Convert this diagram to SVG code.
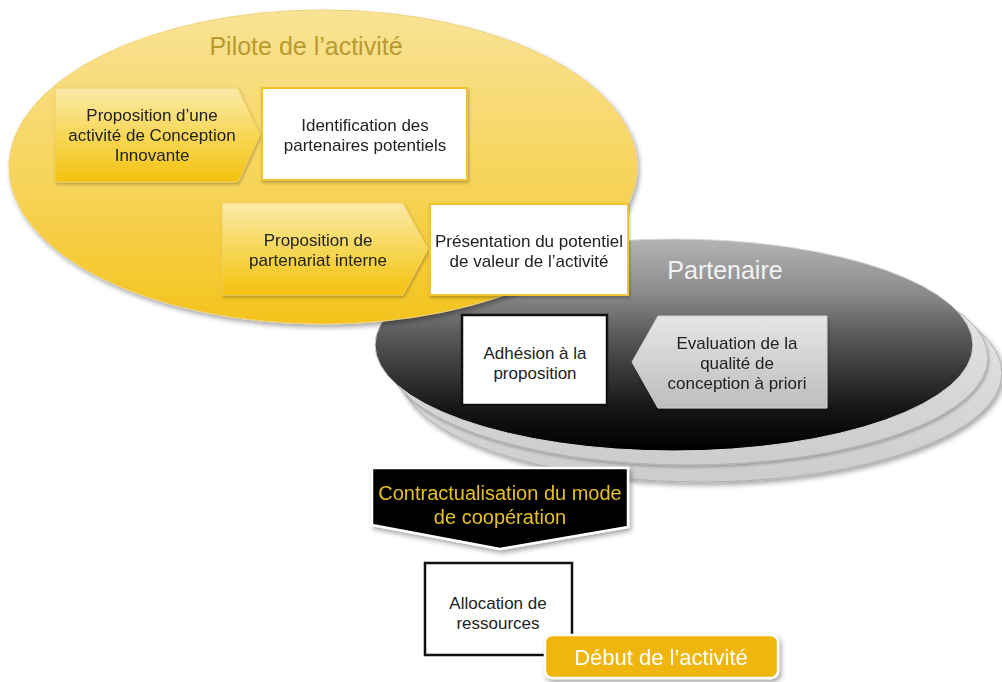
<svg xmlns="http://www.w3.org/2000/svg" width="1002" height="682" viewBox="0 0 1002 682">
  <defs>
    <linearGradient id="gYellowEll" x1="0" y1="0" x2="0" y2="1">
      <stop offset="0" stop-color="#f9e396"/>
      <stop offset="0.6" stop-color="#f6d254"/>
      <stop offset="1" stop-color="#f3c31c"/>
    </linearGradient>
    <linearGradient id="gChev" x1="0" y1="0" x2="0" y2="1">
      <stop offset="0" stop-color="#fbeaa8"/>
      <stop offset="0.55" stop-color="#f7d550"/>
      <stop offset="1" stop-color="#f3c20e"/>
    </linearGradient>
    <linearGradient id="gDark" x1="0" y1="0" x2="0" y2="1">
      <stop offset="0" stop-color="#b4b4b4"/>
      <stop offset="0.25" stop-color="#8c8c8c"/>
      <stop offset="0.45" stop-color="#5a5a5a"/>
      <stop offset="0.8" stop-color="#161616"/>
      <stop offset="1" stop-color="#000000"/>
    </linearGradient>
    <linearGradient id="gLayer" x1="0" y1="0" x2="0" y2="1">
      <stop offset="0" stop-color="#ececec"/>
      <stop offset="1" stop-color="#cccccc"/>
    </linearGradient>
    <linearGradient id="gGrayChev" x1="0" y1="0" x2="0" y2="1">
      <stop offset="0" stop-color="#e6e6e6"/>
      <stop offset="1" stop-color="#bdbdbd"/>
    </linearGradient>
    <filter id="shadow" x="-10%" y="-10%" width="130%" height="140%">
      <feDropShadow dx="2" dy="3" stdDeviation="2.5" flood-color="#000" flood-opacity="0.35"/>
    </filter>
    <filter id="softShadow" x="-10%" y="-10%" width="130%" height="140%">
      <feDropShadow dx="1" dy="2" stdDeviation="1.5" flood-color="#000" flood-opacity="0.25"/>
    </filter>
    <style>
      text { font-family: "Liberation Sans", Arial, sans-serif; text-anchor: middle; }
      .t17 { font-size: 17px; fill: #222; }
      .title { font-size: 25px; }
      .box { fill: #fff; }
      .ybox { stroke: #f1c232; stroke-width: 2; }
      .kbox { stroke: #111; stroke-width: 2.5; }
      .chev { fill: url(#gChev); stroke: #f2d060; stroke-width: 1; }
    </style>
  </defs>

  <rect width="1002" height="682" fill="#fff"/>

  <g id="partenaire">
    <ellipse cx="701" cy="373" rx="301" ry="109" fill="url(#gLayer)" stroke="#b0b0b0" stroke-width="1" filter="url(#shadow)"/>
    <ellipse cx="688" cy="358" rx="300" ry="107" fill="url(#gLayer)" stroke="#b0b0b0" stroke-width="1" filter="url(#softShadow)"/>
    <ellipse cx="674" cy="345" rx="299" ry="106" fill="url(#gDark)" stroke="#d8d8d8" stroke-width="1"/>
    <text x="725" y="279" class="title" fill="#f2f2f2">Partenaire</text>
  </g>

  <g id="pilote">
    <ellipse cx="323" cy="167" rx="314" ry="157" fill="url(#gYellowEll)" stroke="#f0d27a" stroke-width="1" filter="url(#shadow)"/>
    <text x="306" y="55" class="title" fill="#b99a2e">Pilote de l’activité</text>
  </g>

  <g id="node-proposition-activite" filter="url(#softShadow)">
    <path class="chev" d="M55,88 L238,88 L260,135 L238,182 L55,182 Z"/>
    <text class="t17" x="152" y="121">Proposition d’une</text>
    <text class="t17" x="152" y="141">activité de Conception</text>
    <text class="t17" x="152" y="161">Innovante</text>
  </g>

  <g id="node-identification" filter="url(#softShadow)">
    <rect class="box ybox" x="262" y="88" width="205" height="92"/>
    <text class="t17" x="365" y="131">Identification des</text>
    <text class="t17" x="365" y="151">partenaires potentiels</text>
  </g>

  <g id="node-proposition-partenariat" filter="url(#softShadow)">
    <path class="chev" d="M222,203 L403,203 L428,249 L403,295 L222,295 Z"/>
    <text class="t17" x="318" y="246">Proposition de</text>
    <text class="t17" x="318" y="266">partenariat interne</text>
  </g>

  <g id="node-adhesion">
    <rect class="box kbox" x="462" y="315" width="145" height="90"/>
    <text class="t17" x="535" y="359">Adhésion à la</text>
    <text class="t17" x="535" y="379">proposition</text>
  </g>

  <g id="node-evaluation" filter="url(#softShadow)">
    <path d="M658,316 L827,316 L827,408 L658,408 L632,362 Z" fill="url(#gGrayChev)" stroke="#cfcfcf" stroke-width="1"/>
    <text class="t17" x="737" y="349">Evaluation de la</text>
    <text class="t17" x="737" y="369">qualité de</text>
    <text class="t17" x="737" y="389">conception à priori</text>
  </g>

  <g id="node-presentation" filter="url(#softShadow)">
    <rect class="box ybox" x="430" y="204" width="198" height="91"/>
    <text class="t17" x="529" y="247">Présentation du potentiel</text>
    <text class="t17" x="529" y="267">de valeur de l’activité</text>
  </g>

  <g id="node-contractualisation" filter="url(#shadow)">
    <path d="M372,468 L628,468 L628,527 L500,549 L372,525 Z" fill="#000" stroke="#fff" stroke-width="2.5"/>
    <text x="500" y="500" font-size="20" fill="#e7c024">Contractualisation du mode</text>
    <text x="500" y="524" font-size="20" fill="#e7c024">de coopération</text>
  </g>

  <g id="node-allocation">
    <rect class="box kbox" x="425" y="563" width="147" height="92"/>
    <text class="t17" x="498" y="609">Allocation de</text>
    <text class="t17" x="498" y="629">ressources</text>
  </g>

  <g id="node-debut" filter="url(#shadow)">
    <rect x="545" y="635" width="233" height="43" rx="7" ry="7" fill="#f1b60a" stroke="#fff" stroke-width="2.5"/>
    <text x="661" y="665" font-size="22" fill="#fff">Début de l’activité</text>
  </g>

  <g id="connectors"/>
</svg>
